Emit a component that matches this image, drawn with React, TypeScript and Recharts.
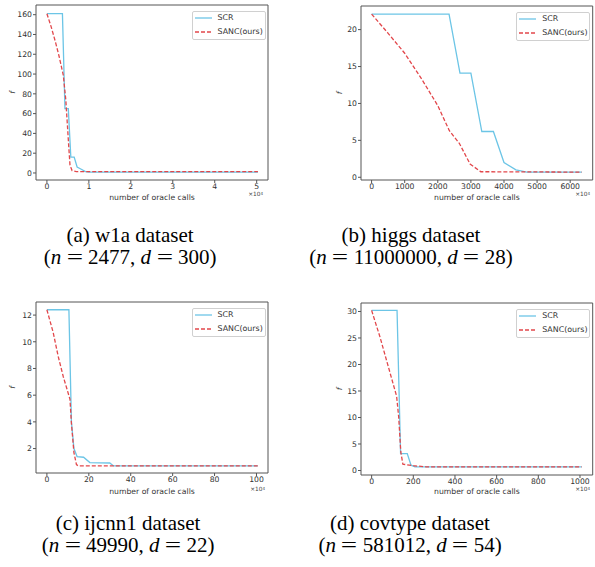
import React from "react";
import { LineChart, Line, XAxis, YAxis, ReferenceArea, Legend, Label } from "recharts";

const SCR_COLOR = "#6cc5e6";
const SANC_COLOR = "#e2474b";
const FONT = "'DejaVu Sans', sans-serif";
const SERIF = "'Liberation Serif', 'Times New Roman', serif";

// (a) w1a, calls in units of 1e4
const w1aScrCalls = [0, 0.37, 0.43, 0.51, 0.57, 0.65, 0.72, 0.83, 0.92, 1.0, 5.03];
const w1aScrF = [161, 161, 65, 65, 16, 16, 6, 3.5, 1.4, 0.9, 0.9];
const w1aSancCalls = [0, 0.1, 0.2, 0.29, 0.39, 0.45, 0.48, 0.52, 0.55, 0.6, 0.7, 5.03];
const w1aSancF = [161, 148, 133, 118, 99, 74, 54, 27, 8, 2.4, 1.4, 1.3];

// (b) higgs
const higgsScrCalls = [0, 2340, 2670, 3000, 3330, 3680, 4000, 4360, 4690, 6350];
const higgsScrF = [22.1, 22.1, 14.1, 14.1, 6.2, 6.2, 2.0, 1.0, 0.7, 0.7];
const higgsSancCalls = [0, 500, 1000, 1500, 2000, 2350, 2650, 2975, 3300, 6350];
const higgsSancF = [22.1, 19.5, 16.8, 13.4, 9.7, 6.3, 4.6, 1.8, 0.75, 0.7];

// (c) ijcnn1
const ijcnnScrCalls = [0, 10.5, 11.7, 12.9, 14.4, 17.5, 20.5, 30, 31.8, 100.6];
const ijcnnScrF = [12.4, 12.4, 4.0, 2.0, 1.4, 1.35, 0.95, 0.92, 0.7, 0.7];
const ijcnnSancCalls = [0, 3, 5.4, 7.8, 9.5, 11, 11.7, 12.9, 14.1, 15, 100.6];
const ijcnnSancF = [12.4, 10.7, 8.9, 7.4, 6.5, 5.7, 3.9, 1.7, 0.8, 0.7, 0.7];

// (d) covtype
const covScrCalls = [0, 122, 139, 171, 189, 208, 1008];
const covScrF = [30.2, 30.2, 3.2, 3.2, 1.0, 0.7, 0.7];
const covSancCalls = [0, 40, 80, 120, 130, 140, 150, 200, 260, 1008];
const covSancF = [30.2, 25.2, 19.6, 14, 10, 3.5, 1.2, 0.9, 0.7, 0.7];

const pts = (xs: number[], ys: number[]) => xs.map((x, i) => ({ calls: x, f: ys[i] }));

const tickStyle = { fontSize: 7.7, fill: "#333", fontFamily: FONT };

function LegendBox() {
  const row = (label: string, color: string, dash?: string) => (
    <div style={{ display: "flex", alignItems: "center", height: 13.5 }}>
      <svg width={17} height={4} style={{ marginRight: 6 }}>
        <line x1={0} y1={2} x2={17} y2={2} stroke={color} strokeWidth={1.3} strokeDasharray={dash} />
      </svg>
      <span style={{ fontSize: 7.9, fontFamily: FONT, color: "#333" }}>{label}</span>
    </div>
  );
  return (
    <div
      style={{
        border: "1px solid #d0d0d0",
        borderRadius: 2,
        background: "rgba(255,255,255,0.8)",
        width: 70,
        height: 27,
        padding: "0 0 0 2px",
        boxSizing: "content-box",
        lineHeight: 1,
      }}>
      {row("SCR", SCR_COLOR)}
      {row("SANC(ours)", SANC_COLOR, "4 2")}
    </div>
  );
}

interface PanelProps {
  left: number;
  top: number;
  width: number;
  height: number;
  frame: [number, number, number, number]; // l, t, r, b
  xDomain: [number, number];
  yDomain: [number, number];
  xTicks: number[];
  yTicks: number[];
  scr: { calls: number; f: number }[];
  sanc: { calls: number; f: number }[];
  xLabelOffset: number;
  fOffset: number;
}

function Panel(p: PanelProps) {
  const [l, t, r, b] = p.frame;
  return (
    <div style={{ position: "absolute", left: p.left, top: p.top }}>
      <LineChart
        width={p.width}
        height={p.height}
        margin={{ top: t - p.top, right: p.left + p.width - r, bottom: 0, left: 0 }}>
        <XAxis
          dataKey="calls"
          type="number"
          domain={p.xDomain}
          allowDataOverflow
          ticks={p.xTicks}
          interval={0}
          height={p.top + p.height - b}
          tick={tickStyle}
          tickSize={3}
          tickMargin={0.5}
          tickLine={{ stroke: "#555" }}
          axisLine={false}>
          <Label
            value="number of oracle calls"
            position="insideBottom"
            offset={p.xLabelOffset}
            style={{ fontSize: 7.7, fill: "#333", fontFamily: FONT }}
          />
        </XAxis>
        <YAxis
          type="number"
          domain={p.yDomain}
          allowDataOverflow
          ticks={p.yTicks}
          interval={0}
          width={l - p.left}
          tick={tickStyle}
          tickSize={3}
          tickMargin={1}
          tickLine={{ stroke: "#555" }}
          axisLine={false}>
          <Label
            value="f"
            angle={-90}
            position="insideLeft"
            offset={p.fOffset}
            style={{ fontSize: 7.7, fill: "#333", fontFamily: FONT, fontStyle: "italic", textAnchor: "middle" }}
          />
        </YAxis>
        <Line
          data={p.scr}
          dataKey="f"
          name="SCR"
          type="linear"
          stroke={SCR_COLOR}
          strokeWidth={1.3}
          dot={false}
          activeDot={false}
          isAnimationActive={false}
        />
        <Line
          data={p.sanc}
          dataKey="f"
          name="SANC(ours)"
          type="linear"
          stroke={SANC_COLOR}
          strokeWidth={1.3}
          strokeDasharray="4 2"
          dot={false}
          activeDot={false}
          isAnimationActive={false}
        />
        <ReferenceArea
          x1={p.xDomain[0]}
          x2={p.xDomain[1]}
          y1={p.yDomain[0]}
          y2={p.yDomain[1]}
          fill="none"
          stroke="#555"
          strokeWidth={1}
          ifOverflow="visible"
        />
        <Legend
          layout="vertical"
          align="center"
          verticalAlign="middle"
          wrapperStyle={{ left: r - p.left - 76.5, top: t - p.top + 5.5, width: 73 }}
          content={() => <LegendBox />}
        />
      </LineChart>
    </div>
  );
}

function OffsetText({ right, top }: { right: number; top: number }) {
  return (
    <div
      style={{
        position: "absolute",
        left: right - 30,
        width: 30,
        top,
        textAlign: "right",
        fontSize: 5.8,
        fontFamily: FONT,
        color: "#444",
      }}>
      ×10<sup style={{ fontSize: 4, verticalAlign: "top" }}>4</sup>
    </div>
  );
}

// wide "=" like the LaTeX math one
const eq = (
  <span style={{ display: "inline-block", width: "0.78em", textAlign: "center" }}>
    <span style={{ display: "inline-block", transform: "scaleX(1.38)" }}>=</span>
  </span>
);

function Caption({ cx, top, title, n, d }: { cx: number; top: number; title: string; n: string; d: string }) {
  return (
    <div
      style={{
        position: "absolute",
        left: cx - 150,
        width: 300,
        top,
        textAlign: "center",
        fontFamily: SERIF,
        fontSize: 21,
        lineHeight: "22px",
        color: "#000",
      }}>
      <div>{title}</div>
      <div>
        (<i>n</i> {eq} {n}, <i>d</i> {eq} {d})
      </div>
    </div>
  );
}

export default function App() {
  return (
    <div style={{ position: "absolute", left: 0, top: 0, width: 595, height: 567, background: "#fff", overflow: "hidden" }}>
      <Panel
        left={0}
        top={0}
        width={300}
        height={210}
        frame={[36, 5, 268, 180]}
        xDomain={[-0.26, 5.27]}
        yDomain={[-7.1, 169.8]}
        xTicks={[0, 1, 2, 3, 4, 5]}
        yTicks={[0, 20, 40, 60, 80, 100, 120, 140, 160]}
        scr={pts(w1aScrCalls, w1aScrF)}
        sanc={pts(w1aSancCalls, w1aSancF)}
        xLabelOffset={10}
        fOffset={12.7}
      />
      <Panel
        left={300}
        top={0}
        width={295}
        height={210}
        frame={[361, 6, 592.7, 180]}
        xDomain={[-320, 6680]}
        yDomain={[-0.37, 23.2]}
        xTicks={[0, 1000, 2000, 3000, 4000, 5000, 6000]}
        yTicks={[0, 5, 10, 15, 20]}
        scr={pts(higgsScrCalls, higgsScrF)}
        sanc={pts(higgsSancCalls, higgsSancF)}
        xLabelOffset={10}
        fOffset={39.3}
      />
      <Panel
        left={0}
        top={290}
        width={300}
        height={210}
        frame={[36, 302, 268, 473]}
        xDomain={[-5.2, 105.5]}
        yDomain={[0.17, 12.98]}
        xTicks={[0, 20, 40, 60, 80, 100]}
        yTicks={[2, 4, 6, 8, 10, 12]}
        scr={pts(ijcnnScrCalls, ijcnnScrF)}
        sanc={pts(ijcnnSancCalls, ijcnnSancF)}
        xLabelOffset={6.2}
        fOffset={12.7}
      />
      <Panel
        left={300}
        top={290}
        width={295}
        height={210}
        frame={[361, 303, 592.7, 475]}
        xDomain={[-51, 1061]}
        yDomain={[-0.85, 31.6]}
        xTicks={[0, 200, 400, 600, 800, 1000]}
        yTicks={[0, 5, 10, 15, 20, 25, 30]}
        scr={pts(covScrCalls, covScrF)}
        sanc={pts(covSancCalls, covSancF)}
        xLabelOffset={5.8}
        fOffset={39.3}
      />
      <OffsetText right={263} top={191} />
      <OffsetText right={590} top={191} />
      <OffsetText right={265} top={486} />
      <OffsetText right={590} top={486} />
      <Caption cx={130} top={223.5} title="(a) w1a dataset" n="2477" d="300" />
      <Caption cx={411} top={223.5} title="(b) higgs dataset" n="11000000" d="28" />
      <Caption cx={128} top={511.5} title="(c) ijcnn1 dataset" n="49990" d="22" />
      <Caption cx={410} top={511.5} title="(d) covtype dataset" n="581012" d="54" />
    </div>
  );
}
